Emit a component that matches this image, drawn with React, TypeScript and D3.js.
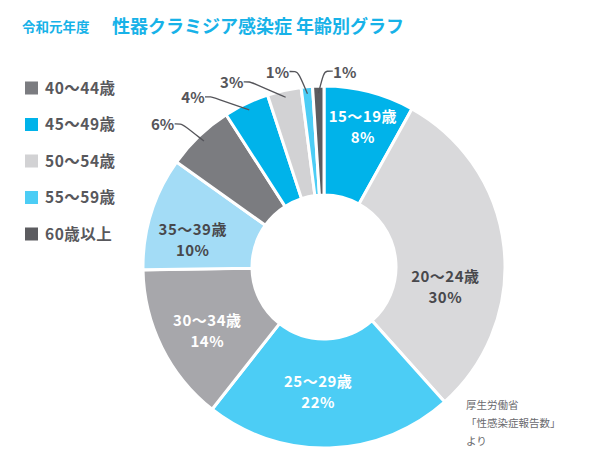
import React from 'react';
import * as d3 from 'd3';

const titleSmall = '令和元年度';
const titleMain = '性器クラミジア感染症 年齢別グラフ';
const ageGroups = ['15～19歳', '20～24歳', '25～29歳', '30～34歳', '35～39歳', '40～44歳', '45～49歳', '50～54歳', '55～59歳', '60歳以上'];
const shares = [8, 30, 22, 14, 10, 6, 4, 3, 1, 1];
const sliceColors = ['#00b3ea', '#d9d9db', '#4ccdf5', '#a7a7ab', '#a3dcf6', '#7b7c80', '#00b3ea', '#d2d2d4', '#4ccdf5', '#5c5c60'];
const legendGroups = ['40～44歳', '45～49歳', '50～54歳', '55～59歳', '60歳以上'];
const sourceLines = ['厚生労働省', '「性感染症報告数」', 'より'];

// layout (not data)
const W = 609, H = 472;
const CX = 324, CY = 267;
const R_OUT = 181, R_IN = 72;
const FONT = '"Noto Sans CJK JP", "Noto Sans", sans-serif';
const insideLayout: Record<number, { da: number; r: number; fill: string }> = {
  0: { da: 1, r: 145, fill: '#ffffff' },
  1: { da: 15.8, r: 123, fill: '#48484c' },
  2: { da: 4.5, r: 125, fill: '#ffffff' },
  3: { da: -2.3, r: 133, fill: '#ffffff' },
  4: { da: -5.7, r: 134, fill: '#48484c' },
};
const calloutLayout: Record<number, { da: number; r: number; side: number }> = {
  5: { da: -5, r: 215, side: 1 },
  6: { da: -12.3, r: 214, side: 1 },
  7: { da: -13.9, r: 206, side: 1 },
  8: { da: -8, r: 200, side: 1 },
  9: { da: 7.9, r: 196, side: -1 },
};

const rad = (deg: number) => (deg * Math.PI) / 180;
const polar = (angle: number, r: number): [number, number] => [Math.sin(angle) * r, -Math.cos(angle) * r];

export default function App() {
  const pie = d3.pie<number>().sort(null).value((d) => d);
  const arcs = pie(shares);
  const arc = d3.arc<d3.PieArcDatum<number>>().innerRadius(R_IN).outerRadius(R_OUT);
  const total = d3.sum(shares);
  const pct = (v: number) => `${Math.round((v / total) * 100 * (total / 99 > 1 ? 99 / 100 : 1) * (100 / 99))}%`;
  const leader = d3.line<[number, number]>().curve(d3.curveBasis);
  const legendY = d3.scalePoint<string>().domain(legendGroups).range([88, 234]);
  const legendColor = (g: string) => sliceColors[ageGroups.indexOf(g)];

  return (
    <svg
      width={W}
      height={H}
      style={{ position: 'absolute', left: 0, top: 0, background: '#ffffff' }}
      fontFamily={FONT}
    >
      <rect width={W} height={H} fill="#ffffff" />
      <text x={22} y={32} fontSize={13.5} fontWeight={700} fill="#17b2e8">{titleSmall}</text>
      <text x={112} y={33} fontSize={18} fontWeight={700} fill="#17b2e8">{titleMain}</text>

      {legendGroups.map((g) => (
        <g key={g} transform={`translate(25,${legendY(g)})`}>
          <rect x={0} y={-6.5} width={13} height={13} fill={legendColor(g)} />
          <text x={20} y={0} dy="0.36em" fontSize={15.5} fontWeight={700} fill="#58585c" letterSpacing={0.5}>{g}</text>
        </g>
      ))}

      <g transform={`translate(${CX},${CY})`}>
        {arcs.map((a, i) => (
          <path key={i} d={arc(a) || ''} fill={sliceColors[i]} stroke="#ffffff" strokeWidth={3} strokeLinejoin="miter" />
        ))}
        {arcs.map((a, i) => {
          const lay = insideLayout[i];
          if (!lay) return null;
          const mid = (a.startAngle + a.endAngle) / 2 + rad(lay.da);
          const [x, y] = polar(mid, lay.r);
          return (
            <g key={'in' + i} fill={lay.fill} fontSize={15} fontWeight={700} textAnchor="middle" letterSpacing={0.5}>
              <text x={x} y={y - 10.5} dy="0.36em">{ageGroups[i]}</text>
              <text x={x} y={y + 10.5} dy="0.36em">{`${shares[i]}%`}</text>
            </g>
          );
        })}
        {arcs.map((a, i) => {
          const lay = calloutLayout[i];
          if (!lay) return null;
          const midRaw = (a.startAngle + a.endAngle) / 2;
          const [lx, ly] = polar(midRaw + rad(lay.da), lay.r);
          const end = polar(midRaw, R_OUT - 7);
          const sx = lx + lay.side * 12;
          const sy = ly - 1;
          const pts: [number, number][] = [
            [sx, sy],
            [sx + lay.side * 6, sy],
            [sx + lay.side * 9, sy + 1],
            end,
          ];
          return (
            <g key={'out' + i}>
              <path d={leader(pts) || ''} fill="none" stroke="#55555a" strokeWidth={1.3} />
              <text x={lx} y={ly} dy="0.36em" textAnchor="middle" fontSize={15} fontWeight={700} fill="#55555a">{`${shares[i]}%`}</text>
            </g>
          );
        })}
      </g>

      {sourceLines.map((s, i) => (
        <text key={s} x={466} y={405 + i * 18} dy="0.36em" fontSize={10.5} fill="#6a6a6e">{s}</text>
      ))}
    </svg>
  );
}
